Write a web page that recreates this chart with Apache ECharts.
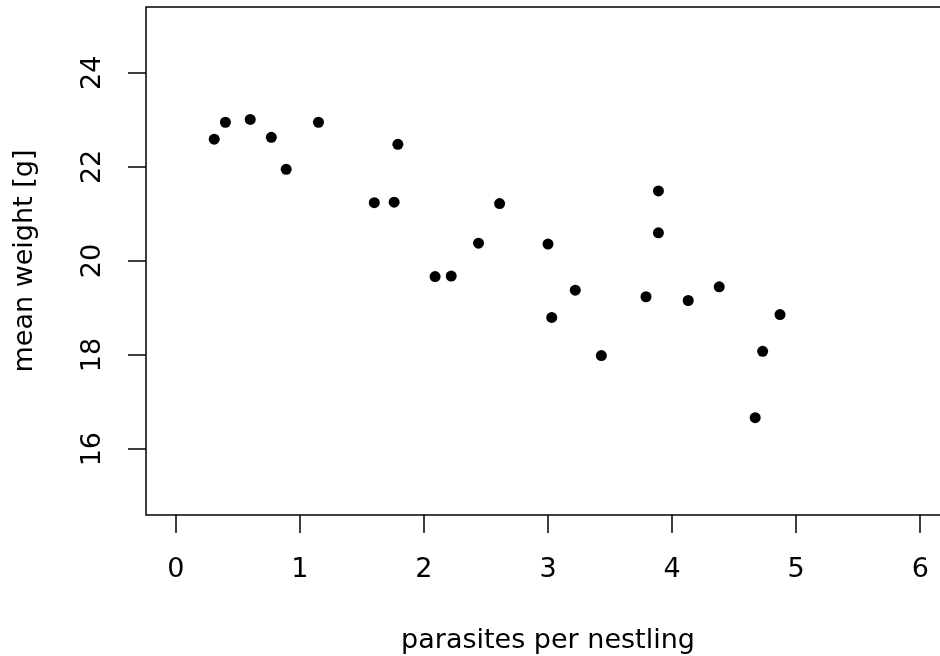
<!DOCTYPE html>
<html lang="en">
<head>
    <meta charset="UTF-8">
    <title>parasites vs weight</title>
    <style>
        * { padding: 0; margin: 0; box-sizing: border-box; }
        html, body, .chart-container { width: 100%; height: 100%; background: #fff; }
    </style>
</head>
<body>
    <div id="chart-container" class="chart-container"></div>
    <script src="https://cdn.jsdelivr.net/npm/echarts@6/dist/echarts.min.js"></script>
    <script>
        // parasites per nestling
        const parasites = [0.31, 0.40, 0.60, 0.77, 0.89, 1.15, 1.60, 1.76, 1.79, 2.09, 2.22, 2.44, 2.61,
            3.00, 3.03, 3.22, 3.43, 3.79, 3.89, 3.89, 4.13, 4.38, 4.67, 4.73, 4.87]
        // mean weight [g]
        const weight = [22.59, 22.95, 23.01, 22.63, 21.95, 22.95, 21.24, 21.25, 22.48, 19.67, 19.68, 20.38, 21.22,
            20.36, 18.80, 19.38, 17.99, 19.24, 21.49, 20.60, 19.16, 19.45, 16.67, 18.08, 18.86]

        const xTicks = [0, 1, 2, 3, 4, 5, 6]
        const yTicks = [16, 18, 20, 22, 24]

        const font = 'DejaVu Sans'
        const fontSize = 27

        var myChart = echarts.init(document.getElementById('chart-container'))

        var option = {
            backgroundColor: '#fff',
            animation: false,
            grid: {
                left: 146,
                top: 7,
                width: 804,
                height: 508,
                outerBoundsMode: 'none',
                containLabel: false,
                show: true,
                borderColor: '#000',
                borderWidth: 1.5,
                backgroundColor: 'transparent'
            },
            xAxis: {
                type: 'value',
                min: -0.24,
                max: 6.24,
                name: 'parasites per nestling',
                nameLocation: 'middle',
                nameGap: 112,
                nameTextStyle: { color: '#000', fontFamily: font, fontSize: fontSize },
                axisLine: { show: false, onZero: false },
                splitLine: { show: false },
                axisTick: {
                    show: true,
                    length: 18,
                    customValues: xTicks,
                    lineStyle: { color: '#000', width: 1.5 }
                },
                axisLabel: {
                    customValues: xTicks,
                    margin: 41,
                    color: '#000',
                    fontFamily: font,
                    fontSize: fontSize
                }
            },
            yAxis: {
                type: 'value',
                min: 14.6,
                max: 25.4,
                name: 'mean weight [g]',
                nameLocation: 'middle',
                nameGap: 108,
                nameTextStyle: { color: '#000', fontFamily: font, fontSize: fontSize },
                axisLine: { show: false, onZero: false },
                splitLine: { show: false },
                axisTick: {
                    show: true,
                    length: 18,
                    customValues: yTicks,
                    lineStyle: { color: '#000', width: 1.5 }
                },
                axisLabel: {
                    customValues: yTicks,
                    rotate: 90,
                    margin: 40,
                    color: '#000',
                    fontFamily: font,
                    fontSize: fontSize
                }
            },
            series: [{
                type: 'scatter',
                symbol: 'circle',
                symbolSize: 11,
                itemStyle: { color: '#000', opacity: 1 },
                data: parasites.map((x, i) => [x, weight[i]])
            }]
        }
        myChart.setOption(option)
    </script>
</body>
</html>
